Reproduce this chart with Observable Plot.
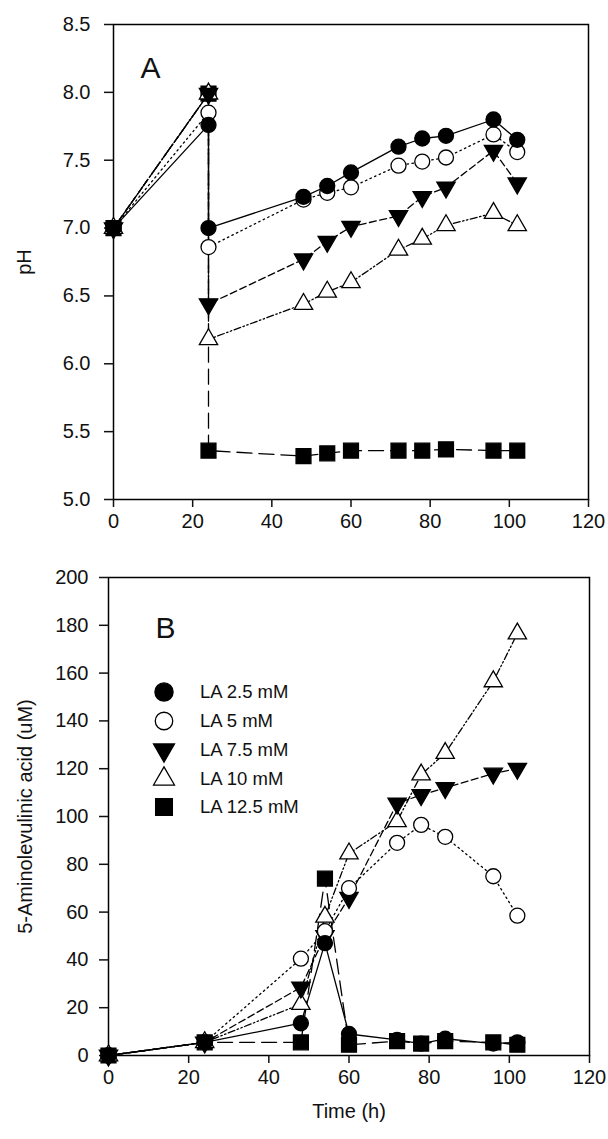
<!DOCTYPE html>
<html>
<head>
<meta charset="utf-8">
<script src="https://cdn.jsdelivr.net/npm/d3@7"></script>
<script src="https://cdn.jsdelivr.net/npm/@observablehq/plot@0.6"></script>
<style>
  html, body { margin: 0; padding: 0; background: white; }
  #wrap { position: relative; width: 608px; height: 1139px; overflow: hidden; font-family: "Liberation Sans", Arial, sans-serif; }
  #wrap svg { display: block; }
  .leg-row { position: absolute; font-size: 18.5px; color: #111; white-space: nowrap; line-height: 20px; }
</style>
</head>
<body>
<div id="wrap"><div id="pa" style="position:absolute;left:0;top:0"></div><div id="pb" style="position:absolute;left:0;top:540px"></div><div id="leg"></div></div>
<script>
// ---------- DATA ----------
const seriesNames = ["LA 2.5 mM", "LA 5 mM", "LA 7.5 mM", "LA 10 mM", "LA 12.5 mM"];

// Panel A: pH (the two values at 24 h are before / after adjustment)
const timeA = [0, 24, 24, 48, 54, 60, 72, 78, 84, 96, 102];
const pH_LA2_5  = [7.00, 7.76, 7.00, 7.23, 7.31, 7.41, 7.60, 7.66, 7.68, 7.80, 7.65];
const pH_LA5    = [7.00, 7.85, 6.86, 7.21, 7.26, 7.30, 7.46, 7.49, 7.52, 7.69, 7.56];
const pH_LA7_5  = [7.00, 7.99, 6.44, 6.77, 6.90, 7.01, 7.09, 7.23, 7.30, 7.57, 7.33];
const pH_LA10   = [7.00, 7.99, 6.18, 6.44, 6.53, 6.60, 6.84, 6.92, 7.02, 7.11, 7.02];
const pH_LA12_5 = [7.00, 7.99, 5.36, 5.32, 5.34, 5.36, 5.36, 5.36, 5.37, 5.36, 5.36];

// Panel B: 5-aminolevulinic acid (uM)
const timeB = [0, 24, 48, 54, 60, 72, 78, 84, 96, 102];
const ala_LA2_5  = [0, 5.5, 13.5, 47, 9, 6.5, 5, 7, 5, 5.5];
const ala_LA5    = [0, 5.5, 40.5, 52, 70, 89, 96.5, 91.5, 75, 58.5];
const ala_LA7_5  = [0, 5.5, 28.5, 50, 66, 105.5, 109, 112, 118, 120];
const ala_LA10   = [0, 5.5, 21.5, 58, 84.5, 98, 117.5, 126.5, 156.5, 176.5];
const ala_LA12_5 = [0, 5.5, 5.5, 74, 4.5, 6, 5, 6, 5.5, 4.5];

const xTicks = [0, 20, 40, 60, 80, 100, 120];
const yTicksA = [5.0, 5.5, 6.0, 6.5, 7.0, 7.5, 8.0, 8.5];
const yTicksB = [0, 20, 40, 60, 80, 100, 120, 140, 160, 180, 200];

// ---------- STYLES ----------
const styles = [
  {symbol: "circle",   fill: "black", r: 7.5, rotate: 0,   dash: null,                 legSize: 260},
  {symbol: "circle",   fill: "white", r: 7.5, rotate: 0,   dash: "1.5,3.5",            legSize: 240},
  {symbol: "triangle", fill: "black", r: 6.8, rotate: 180, dash: "7,3.5",              legSize: 190},
  {symbol: "triangle", fill: "white", r: 6.8, rotate: 0,   dash: "7,2.5,1.5,2.5,1.5,2.5", legSize: 190},
  {symbol: "square",   fill: "black", r: 8.4, rotate: 0,   dash: "15,7",               legSize: 280}
];

const pHSeries = [pH_LA2_5, pH_LA5, pH_LA7_5, pH_LA10, pH_LA12_5];
const alaSeries = [ala_LA2_5, ala_LA5, ala_LA7_5, ala_LA10, ala_LA12_5];

const rowsA = pHSeries.map((vals, i) => vals.map((v, j) => ({t: timeA[j], v, s: seriesNames[i]})));
const rowsB = alaSeries.map((vals, i) => vals.map((v, j) => ({t: timeB[j], v, s: seriesNames[i]})));

function seriesMarks(rowsList) {
  const marks = [];
  rowsList.forEach((rows, i) => {
    const st = styles[i];
    marks.push(Plot.line(rows, {x: "t", y: "v", stroke: "black", strokeWidth: 1.3,
      strokeDasharray: st.dash || undefined, curve: "linear"}));
  });
  for (let i = rowsList.length - 1; i >= 0; i--) {
    const st = styles[i];
    marks.push(Plot.dot(rowsList[i], {x: "t", y: "v", symbol: st.symbol, r: st.r, fill: st.fill,
      stroke: "black", strokeWidth: 1.3, rotate: st.rotate}));
  }
  return marks;
}

const commonStyle = {fontFamily: "'Liberation Sans', Arial, sans-serif", fontSize: "19px", color: "#111", background: "white", overflow: "visible"};

const plotA = Plot.plot({
  width: 608, height: 540,
  marginLeft: 113, marginRight: 20, marginTop: 24, marginBottom: 41,
  x: {domain: [0, 120]},
  y: {domain: [5, 8.5]},
  style: commonStyle,
  marks: [
    Plot.frame({stroke: "black", strokeWidth: 1.5}),
    Plot.axisX({ticks: xTicks, tickSize: 8, tickPadding: 6, label: null, strokeWidth: 1.5, fontSize: 20}),
    Plot.axisY({ticks: yTicksA, tickFormat: d3.format(".1f"), tickSize: 9, tickPadding: 14, strokeWidth: 1.5, fontSize: 20,
      label: "pH", labelAnchor: "center", labelArrow: false, labelOffset: 97}),
    Plot.text(["A"], {frameAnchor: "top-left", dx: 27, dy: 44, textAnchor: "start", lineAnchor: "middle", fontSize: 30, fill: "#111"}),
    ...seriesMarks(rowsA)
  ]
});
document.getElementById("pa").appendChild(plotA);

const plotB = Plot.plot({
  width: 608, height: 599,
  marginLeft: 108, marginRight: 19, marginTop: 37, marginBottom: 84,
  x: {domain: [0, 120]},
  y: {domain: [0, 200]},
  style: commonStyle,
  marks: [
    Plot.frame({stroke: "black", strokeWidth: 1.5}),
    Plot.axisX({ticks: xTicks, tickSize: 8, tickPadding: 6, strokeWidth: 1.5, fontSize: 20,
      label: "Time (h)", labelAnchor: "center", labelArrow: false, labelOffset: 62}),
    Plot.axisY({ticks: yTicksB, tickSize: 9, tickPadding: 11, strokeWidth: 1.5, fontSize: 20,
      label: "5-Aminolevulinic acid (uM)", labelAnchor: "center", labelArrow: false, labelOffset: 91}),
    Plot.text(["B"], {frameAnchor: "top-left", dx: 47, dy: 51, textAnchor: "start", lineAnchor: "middle", fontSize: 30, fill: "#111"}),
    ...seriesMarks(rowsB)
  ]
});
document.getElementById("pb").appendChild(plotB);

// ---------- LEGEND (panel B) ----------
const legY = [692, 721, 750, 779, 807];
const symMap = {circle: d3.symbolCircle, triangle: d3.symbolTriangle, square: d3.symbolSquare};
const leg = document.getElementById("leg");
seriesNames.forEach((name, i) => {
  const st = styles[i];
  const svg = d3.create("svg").attr("width", 30).attr("height", 30)
    .style("position", "absolute").style("left", (164 - 15) + "px").style("top", (legY[i] - 15) + "px");
  svg.append("path")
    .attr("d", d3.symbol(symMap[st.symbol], st.legSize)())
    .attr("transform", `translate(15,15) rotate(${st.rotate})`)
    .attr("fill", st.fill).attr("stroke", "black").attr("stroke-width", 1.3);
  leg.appendChild(svg.node());
  const div = document.createElement("div");
  div.className = "leg-row";
  div.style.left = "200px";
  div.style.top = (legY[i] - 10) + "px";
  div.textContent = name;
  leg.appendChild(div);
});
</script>
</body>
</html>
